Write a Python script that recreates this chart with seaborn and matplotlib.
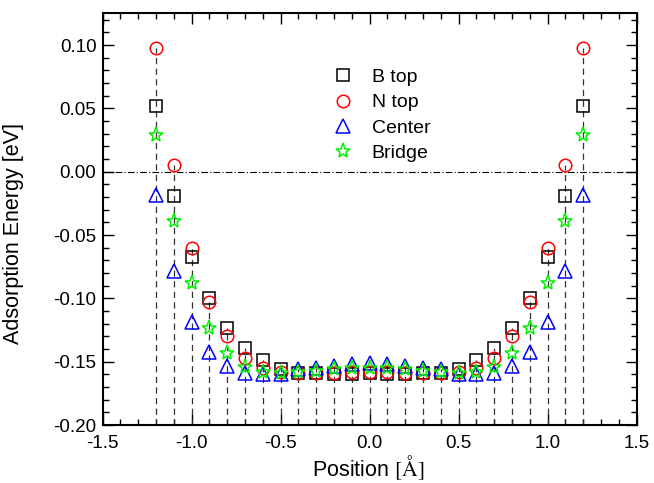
import numpy as np
import pandas as pd
import matplotlib
matplotlib.use("Agg")
import matplotlib.pyplot as plt
import seaborn as sns

# ---------------- data ----------------
position = [-1.2, -1.1, -1.0, -0.9, -0.8, -0.7, -0.6, -0.5, -0.4, -0.3, -0.2, -0.1, 0.0,
            0.1, 0.2, 0.3, 0.4, 0.5, 0.6, 0.7, 0.8, 0.9, 1.0, 1.1, 1.2]

b_top = [0.052, -0.019, -0.067, -0.100, -0.123, -0.139, -0.149, -0.156, -0.159, -0.159,
         -0.160, -0.160, -0.159,
         -0.160, -0.160, -0.159, -0.159, -0.156, -0.149, -0.139, -0.123, -0.100, -0.067,
         -0.019, 0.052]
n_top = [0.098, 0.005, -0.060, -0.103, -0.130, -0.147, -0.155, -0.158, -0.159, -0.159,
         -0.159, -0.158, -0.158,
         -0.158, -0.159, -0.159, -0.159, -0.158, -0.155, -0.147, -0.130, -0.103, -0.060,
         0.005, 0.098]
center = [-0.018, -0.078, -0.119, -0.142, -0.153, -0.159, -0.160, -0.160, -0.156, -0.155,
          -0.153, -0.152, -0.151,
          -0.152, -0.153, -0.155, -0.156, -0.160, -0.160, -0.159, -0.153, -0.142, -0.119,
          -0.078, -0.018]
bridge = [0.029, -0.039, -0.088, -0.123, -0.143, -0.154, -0.158, -0.159, -0.158, -0.157,
          -0.156, -0.155, -0.155,
          -0.155, -0.156, -0.157, -0.158, -0.159, -0.158, -0.154, -0.143, -0.123, -0.088,
          -0.039, 0.029]

series_names = ["B top", "N top", "Center", "Bridge"]
series_values = [b_top, n_top, center, bridge]

x_ticks = [-1.5, -1.0, -0.5, 0.0, 0.5, 1.0, 1.5]
y_ticks = [-0.20, -0.15, -0.10, -0.05, 0.00, 0.05, 0.10]

# ---------------- style ----------------
sns.set_style("ticks")
plt.rcParams["font.family"] = ["Liberation Sans", "DejaVu Sans"]
plt.rcParams["mathtext.fontset"] = "stix"
plt.rcParams["axes.unicode_minus"] = False
plt.rcParams["text.color"] = "black"
plt.rcParams["axes.labelcolor"] = "black"

styles = {
    "B top": dict(color="#000000", marker="s", ms=8),
    "N top": dict(color="#ff0000", marker="o", ms=9),
    "Center": dict(color="#0000ff", marker="^", ms=10.5),
    "Bridge": dict(color="#00f000", marker="*", ms=11),
}

fig, ax = plt.subplots(figsize=(6.54, 4.83), dpi=100)
fig.subplots_adjust(left=0.157, right=0.9735, bottom=0.12, top=0.9723)

# dashed drop lines from the bottom up to the highest marker at each position
top_vals = np.max(np.array(series_values), axis=0)
ax.vlines(position, -0.2, top_vals, colors="#333333", linestyles=(0, (5, 3.5)),
          linewidth=0.9, zorder=1)

# zero line
ax.axhline(0, color="black", linestyle=(0, (6, 2, 1, 2)), linewidth=0.8, zorder=1)

for name, vals in zip(series_names, series_values):
    df = pd.DataFrame({"pos": position, "energy": vals})
    st = styles[name]
    sns.lineplot(data=df, x="pos", y="energy", ax=ax, linestyle="", label=name,
                 marker=st["marker"], markersize=st["ms"], markerfacecolor="none",
                 markeredgecolor=st["color"], markeredgewidth=1.1, color=st["color"],
                 zorder=3)

ax.set_xlim(-1.5, 1.5)
ax.set_ylim(-0.2, 0.125)
ax.set_xticks(x_ticks)
ax.set_yticks(y_ticks)
ax.set_xticklabels([f"{v:.1f}" for v in x_ticks])
ax.set_yticklabels([f"{v:.2f}" for v in y_ticks])
ax.xaxis.set_minor_locator(matplotlib.ticker.MultipleLocator(0.1))
ax.yaxis.set_minor_locator(matplotlib.ticker.MultipleLocator(0.01))
ax.tick_params(which="both", direction="in", top=True, right=True, width=1.0,
               labelsize=13.5, colors="black")
ax.tick_params(which="major", length=8)
ax.tick_params(which="minor", length=4.5)
ax.tick_params(axis="x", which="major", pad=7)
ax.tick_params(axis="y", which="major", pad=4.5)
for sp in ax.spines.values():
    sp.set_linewidth(1.5)
    sp.set_color("black")

ax.set_xlabel(r"Position $\mathrm{[\AA]}$", fontsize=15.5)
ax.set_ylabel("Adsorption Energy [eV]", fontsize=15.5)
ax.yaxis.set_label_coords(-0.147, 0.465)
ax.xaxis.set_label_coords(0.497, -0.07)

ax.legend(loc="upper left", bbox_to_anchor=(0.413, 0.885), frameon=False,
          fontsize=14, handlelength=1.2, handletextpad=0.9, labelspacing=0.4,
          borderaxespad=0)

fig.savefig("out.png", dpi=100)
